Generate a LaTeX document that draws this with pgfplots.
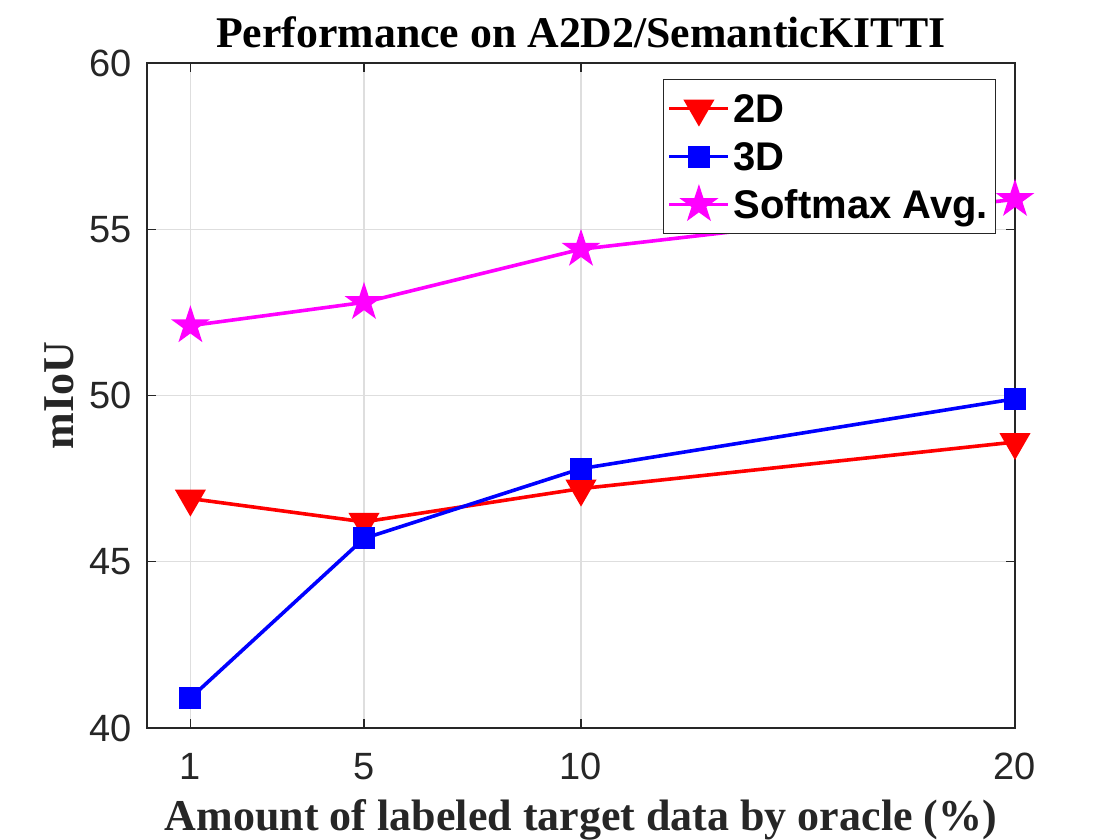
\documentclass[border=0pt]{standalone}
\usepackage{fontspec}
\setmainfont{Liberation Sans}
\newfontfamily\timesfont{Liberation Serif}
\usepackage{pgfplots}
\pgfplotsset{compat=1.18}
\definecolor{axgray}{rgb}{0.15,0.15,0.15}
\definecolor{gridgray}{rgb}{0.87,0.87,0.87}
\definecolor{pred}{rgb}{1,0,0}
\definecolor{pblue}{rgb}{0,0,1}
\definecolor{pmag}{rgb}{1,0,1}
\pgfdeclareplotmark{fstar}{%
  \pgfpathmoveto{\pgfpointpolar{90}{\pgfplotmarksize}}%
  \pgfpathlineto{\pgfpointpolar{126}{0.382\pgfplotmarksize}}%
  \pgfpathlineto{\pgfpointpolar{162}{\pgfplotmarksize}}%
  \pgfpathlineto{\pgfpointpolar{198}{0.382\pgfplotmarksize}}%
  \pgfpathlineto{\pgfpointpolar{234}{\pgfplotmarksize}}%
  \pgfpathlineto{\pgfpointpolar{270}{0.382\pgfplotmarksize}}%
  \pgfpathlineto{\pgfpointpolar{306}{\pgfplotmarksize}}%
  \pgfpathlineto{\pgfpointpolar{342}{0.382\pgfplotmarksize}}%
  \pgfpathlineto{\pgfpointpolar{18}{\pgfplotmarksize}}%
  \pgfpathlineto{\pgfpointpolar{54}{0.382\pgfplotmarksize}}%
  \pgfpathclose
  \pgfusepathqfillstroke
}
\begin{document}
\begin{tikzpicture}
\begin{axis}[
  scale only axis,
  width=434pt, height=332.5pt,
  xmin=0, xmax=20, ymin=40, ymax=60,
  xtick={1,5,10,20}, ytick={40,45,50,55,60},
  axis line style={axgray, line width=0.6pt},
  tick style={axgray, line width=0.6pt},
  tick align=inside, major tick length=4.5pt,
  xtick pos=both, ytick pos=both,
  grid=major, major grid style={gridgray, line width=0.6pt},
  /pgf/number format/assume math mode=true,
  tick label style={font=\fontsize{19}{22}\selectfont, text=axgray, inner sep=0pt},
  xticklabel style={anchor=north, yshift=-12.5pt},
  yticklabel style={anchor=east, xshift=-7.5pt},
  title={Performance on A2D2/SemanticKITTI},
  every axis title/.style={at={(axis description cs:0.5,1.024)}, anchor=base, font=\timesfont\bfseries\fontsize{21.9}{25}\selectfont},
  xlabel={Amount of labeled target data by oracle (\%)},
  ylabel={mIoU},
  every axis x label/.style={at={(axis description cs:0.5,-0.1534)}, anchor=base, font=\timesfont\bfseries\fontsize{22}{26}\selectfont, text=axgray},
  every axis y label/.style={at={(axis description cs:-0.0841,0.5)}, rotate=90, anchor=base, font=\timesfont\bfseries\fontsize{22}{26}\selectfont, text=axgray},
  legend cell align=left,
  legend style={at={(axis description cs:0.5945,0.976)}, anchor=north west, draw=axgray, line width=0.6pt,
    font=\bfseries\fontsize{20}{23}\selectfont, inner xsep=2pt, inner ysep=2.5pt,
    nodes={inner xsep=1.75pt, inner ysep=2pt, text height=17pt, text depth=3pt}},
  legend image code/.code={\draw[mark repeat=2,mark phase=2] plot coordinates {(0pt,0pt) (14.75pt,0pt) (29.5pt,0pt)};},
]
\addplot[pred, line width=1.8pt, mark=triangle*, mark size=8pt, mark options={solid, rotate=180, fill=pred, draw=pred, line width=1pt}]
  coordinates {(1,46.9) (5,46.2) (10,47.2) (20,48.6)};
\addlegendentry{2D}
\addplot[pblue, line width=1.8pt, mark=square*, mark size=5pt, mark options={solid, fill=pblue, draw=pblue, line width=1pt}]
  coordinates {(1,40.9) (5,45.7) (10,47.8) (20,49.9)};
\addlegendentry{3D}
\addplot[pmag, line width=1.8pt, mark=fstar, mark size=8.6pt, mark options={solid, fill=pmag, draw=pmag, line width=1pt}]
  coordinates {(1,52.1) (5,52.8) (10,54.4) (20,55.9)};
\addlegendentry{Softmax Avg.}
\end{axis}
\pgfresetboundingbox
\path[use as bounding box] (-73.5pt,-56pt) rectangle (486.5pt,364pt);
\end{tikzpicture}
\end{document}
